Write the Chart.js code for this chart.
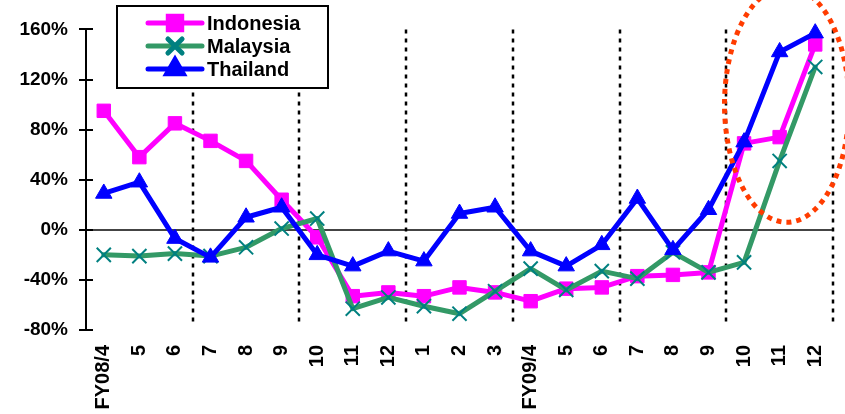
<!DOCTYPE html>
<html>
<head>
<meta charset="utf-8">
<script src="https://cdn.jsdelivr.net/npm/chart.js@4.4.0/dist/chart.umd.min.js"></script>
<style>
    html, body { margin: 0; padding: 0; background: #fff; }
    #wrap { width: 845px; height: 414px; }
</style>
</head>
<body>
<div id="wrap"><canvas id="chart" width="845" height="414"></canvas></div>
<script>
// month labels, fiscal years start in April
const months = ['FY08/4', '5', '6', '7', '8', '9', '10', '11', '12', '1', '2', '3',
    'FY09/4', '5', '6', '7', '8', '9', '10', '11', '12'];

// year-on-year change, %
const indonesia = [95, 58, 85, 71, 55, 24, -6, -53, -50, -53, -46, -50, -57, -47, -46, -37, -36, -34, 69, 74, 148];
const malaysia = [-20, -21, -19, -21, -14, 1, 9, -63, -54, -61, -67, -49, -31, -48, -33, -39, -18, -34, -26, 55, 130];
const thailand = [29, 38, -7, -22, 10, 18, -20, -29, -17, -25, 13, 18, -17, -29, -12, 25, -16, 16, 70, 142, 157];

// first month of each new quarter (dotted separators)
const quarterStarts = [3, 6, 9, 12, 15, 18, 21];

// circled area in data units (category index / percent)
const highlight = {index: 19.2, value: 100, spanX: 1.75, spanY: 94};

const FONT = "'Liberation Sans', Arial, sans-serif";

const quarterLines = {
    id: 'quarterLines',
    beforeDatasetsDraw(chart) {
        const {ctx, chartArea, scales: {x}} = chart;
        ctx.save();
        ctx.strokeStyle = '#000';
        ctx.lineWidth = 2.5;
        ctx.setLineDash([4, 5]);
        quarterStarts.forEach((i) => {
            const px = Math.round(x.getPixelForValue(i - 0.5));
            ctx.beginPath();
            ctx.moveTo(px, chartArea.top);
            ctx.lineTo(px, chartArea.bottom - 7);
            ctx.stroke();
        });
        ctx.restore();
    },
    afterDraw(chart) {
        // tick marks crossing the y axis
        const {ctx, chartArea, scales: {y}} = chart;
        ctx.save();
        ctx.strokeStyle = '#000';
        ctx.lineWidth = 2;
        y.ticks.forEach((t) => {
            const py = Math.round(y.getPixelForValue(t.value));
            ctx.beginPath();
            ctx.moveTo(chartArea.left - 7, py);
            ctx.lineTo(chartArea.left + 7, py);
            ctx.stroke();
        });
        ctx.restore();
    },
};

const circleMark = {
    id: 'circleMark',
    afterDatasetsDraw(chart) {
        const {ctx, scales: {x, y}} = chart;
        const cx = x.getPixelForValue(highlight.index);
        const cy = y.getPixelForValue(highlight.value);
        const rx = x.getPixelForValue(highlight.index + highlight.spanX) - cx;
        const ry = cy - y.getPixelForValue(highlight.value + highlight.spanY);
        ctx.save();
        ctx.strokeStyle = '#ff3c00';
        ctx.lineWidth = 5;
        ctx.setLineDash([5, 5]);
        ctx.beginPath();
        ctx.ellipse(cx, cy, rx, ry, 0, 0, Math.PI * 2);
        ctx.stroke();
        ctx.restore();
    },
};

const boxLegend = {
    id: 'boxLegend',
    afterDraw(chart) {
        const ctx = chart.ctx;
        ctx.save();
        ctx.fillStyle = '#fff';
        ctx.fillRect(117, 6, 211, 82);
        ctx.strokeStyle = '#000';
        ctx.lineWidth = 2;
        ctx.strokeRect(117, 6, 211, 82);
        chart.data.datasets.forEach((ds, i) => {
            const rowY = 23 + i * 23;
            ctx.strokeStyle = ds.borderColor;
            ctx.lineWidth = 5;
            ctx.lineCap = 'round';
            ctx.beginPath();
            ctx.moveTo(148, rowY);
            ctx.lineTo(202, rowY);
            ctx.stroke();
            ctx.fillStyle = ds.pointBackgroundColor;
            ctx.strokeStyle = ds.pointBorderColor;
            Chart.helpers.drawPoint(ctx, {
                pointStyle: ds.pointStyle,
                radius: ds.pointRadius,
                borderWidth: ds.pointBorderWidth,
                rotation: 0,
            }, 175, rowY);
            ctx.fillStyle = '#000';
            ctx.font = 'bold 20px ' + FONT;
            ctx.textBaseline = 'middle';
            ctx.textAlign = 'left';
            ctx.fillText(ds.label, 207, rowY + 1);
        });
        ctx.restore();
    },
};

const lineStyle = {
    borderWidth: 5,
    tension: 0,
    borderJoinStyle: 'round',
    borderCapStyle: 'round',
    clip: false,
};

new Chart(document.getElementById('chart'), {
    type: 'line',
    data: {
        labels: months,
        datasets: [
            {
                ...lineStyle,
                label: 'Indonesia',
                data: indonesia,
                borderColor: '#ff00ff',
                pointStyle: 'rect',
                pointRadius: 9.5,
                pointBorderWidth: 1,
                pointBackgroundColor: '#ff00ff',
                pointBorderColor: '#ff00ff',
                order: 2,
            },
            {
                ...lineStyle,
                label: 'Malaysia',
                data: malaysia,
                borderColor: '#339966',
                pointStyle: 'crossRot',
                pointRadius: 10,
                pointBorderWidth: 2,
                pointBackgroundColor: '#008080',
                pointBorderColor: '#008080',
                order: 1,
            },
            {
                ...lineStyle,
                label: 'Thailand',
                data: thailand,
                borderColor: '#0000ff',
                pointStyle: 'triangle',
                pointRadius: 9.5,
                pointBorderWidth: 1,
                pointBackgroundColor: '#0000ff',
                pointBorderColor: '#0000ff',
                order: 0,
            },
        ],
    },
    options: {
        responsive: false,
        animation: false,
        devicePixelRatio: 1,
        layout: {
            padding: {top: 23, right: 12, left: 0, bottom: 0},
        },
        scales: {
            x: {
                offset: true,
                border: {display: false},
                grid: {display: false, drawTicks: false, offset: true},
                ticks: {
                    color: '#000',
                    autoSkip: false,
                    maxRotation: 90,
                    minRotation: 90,
                    padding: 15,
                    font: {family: FONT, size: 20, weight: 'bold'},
                },
                afterFit: (scale) => {
                    scale.height = 84;
                    scale.paddingLeft = 0;
                    scale.paddingRight = 0;
                },
            },
            y: {
                min: -80,
                max: 160,
                border: {display: true, color: '#000', width: 2},
                grid: {
                    drawTicks: false,
                    lineWidth: 2,
                    color: (c) => (c.tick && c.tick.value === 0 ? '#444' : 'rgba(0,0,0,0)'),
                },
                ticks: {
                    stepSize: 40,
                    color: '#000',
                    padding: 18,
                    font: {family: FONT, size: 19, weight: 'bold'},
                    callback: (v) => v + '%',
                },
                afterFit: (scale) => { scale.width = 86; },
            },
        },
        plugins: {
            legend: {display: false},
            tooltip: {enabled: false},
        },
    },
    plugins: [quarterLines, circleMark, boxLegend],
});
</script>
</body>
</html>
